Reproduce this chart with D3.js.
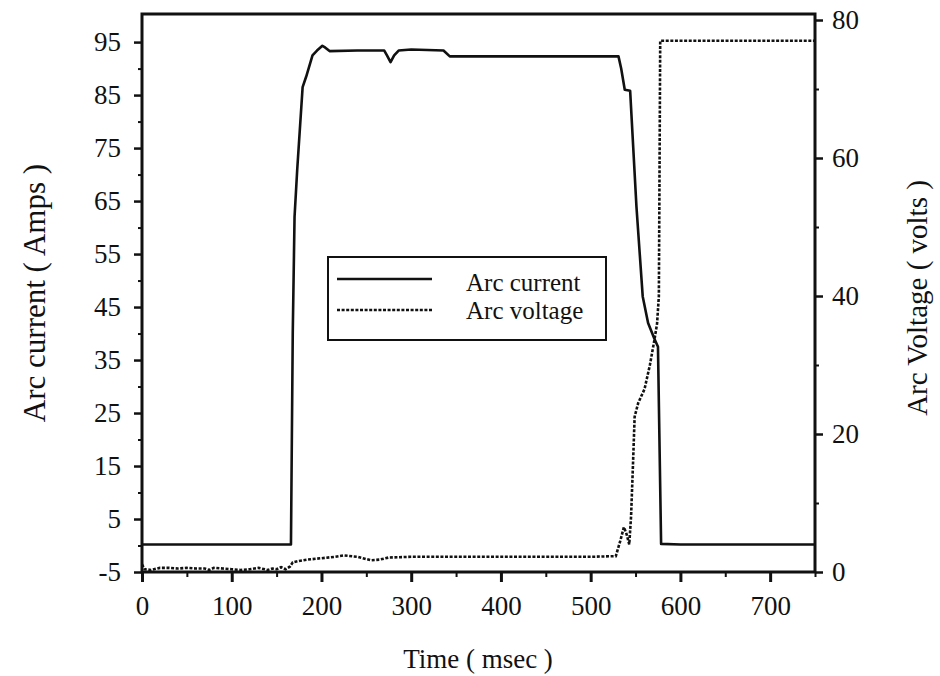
<!DOCTYPE html>
<html><head><meta charset="utf-8">
<script src="https://cdn.jsdelivr.net/npm/d3@7"></script>
<style>body{margin:0;background:#fff}svg{display:block}text{font-family:"Liberation Serif","Times New Roman",serif;fill:#111}</style>
</head><body><svg id="c" width="940" height="676"></svg>
<script>
// ---- data ----
const currentTime = [0,100,166,168,170,173,179,183,190,195,201,204,209,240,270,273,277,281,286,300,336,343,440,531,534,538,544,551,558,564,571,575,578.5,600,750];
const currentAmps = [0.2,0.2,0.2,40,62,71,86.5,88.5,92.5,93.4,94.3,94,93.3,93.4,93.4,92.5,91.2,92.5,93.4,93.6,93.4,92.3,92.3,92.3,90,86,85.8,64,47,42,39,37.5,0.3,0.2,0.2];
const voltageTime = [0,3,10,20,30,40,50,60,70,75,80,90,100,110,120,130,140,145,150,155,160,165,168,175,185,200,215,225,240,255,265,275,300,350,400,450,500,528,533,537,540,543,545,547,549,553,560,566,571,574,576,577.5,600,750];
const voltageVolts = [1.1,0.4,0.3,0.6,0.6,0.5,0.6,0.5,0.5,0.3,0.6,0.5,0.4,0.3,0.4,0.6,0.3,0.5,0.4,0.7,0.4,0.8,1.4,1.6,1.8,2.0,2.2,2.4,2.2,1.7,1.8,2.1,2.2,2.2,2.2,2.2,2.2,2.3,4.5,6.5,5.5,4.0,8,15,22.5,24.5,26.5,30,33.6,36,40,77,77,77];
const xMajorTicks = [0,100,200,300,400,500,600,700];
const xMinorTicks = [50,150,250,350,450,550,650,750];
const yLeftMajor = [-5,5,15,25,35,45,55,65,75,85,95];
const yLeftMinor = [0,10,20,30,40,50,60,70,80,90];
const yRightMajor = [0,20,40,60,80];
const yRightMinor = [10,30,50,70];
const legendLabels = ["Arc current","Arc voltage"];

// ---- layout ----
const L=142, R=815, T=14, B=572;
const svg = d3.select("#c");
const x = d3.scaleLinear().domain([0,750]).range([L,R]);
const yL = d3.scaleLinear().domain([-5,100.3]).range([B,T]);
const yR = d3.scaleLinear().domain([0,80.87]).range([B,T]);
const fs = 27;
const fmt = d => String(d);

function minor(g, sw){ g.select(".domain").remove(); g.selectAll("line").attr("stroke","#111").attr("stroke-width",sw); g.selectAll("text").remove(); }
function major(g, sw){ g.select(".domain").remove(); g.selectAll("line").attr("stroke","#111").attr("stroke-width",sw);
  g.selectAll("text").attr("font-size",fs).attr("font-family","Liberation Serif").attr("fill","#111"); }

svg.append("g").attr("transform",`translate(0,${B})`)
  .call(d3.axisBottom(x).tickValues(xMinorTicks).tickSize(5).tickFormat("")).call(g=>minor(g,2));
svg.append("g").attr("transform",`translate(0,${B})`)
  .call(d3.axisBottom(x).tickValues(xMajorTicks).tickSize(10).tickPadding(14).tickFormat(fmt)).call(g=>major(g,3));
svg.append("g").attr("transform",`translate(${L},0)`)
  .call(d3.axisLeft(yL).tickValues(yLeftMinor).tickSize(4).tickFormat("")).call(g=>minor(g,2));
svg.append("g").attr("transform",`translate(${L},0)`)
  .call(d3.axisLeft(yL).tickValues(yLeftMajor).tickSize(8).tickPadding(13).tickFormat(fmt)).call(g=>major(g,2.5));
svg.append("g").attr("transform",`translate(${R},0)`)
  .call(d3.axisRight(yR).tickValues(yRightMinor).tickSize(4).tickFormat("")).call(g=>minor(g,2));
svg.append("g").attr("transform",`translate(${R},0)`)
  .call(d3.axisRight(yR).tickValues(yRightMajor).tickSize(8).tickPadding(9).tickFormat(fmt)).call(g=>major(g,2.5));

// frame
svg.append("rect").attr("x",L).attr("y",T).attr("width",R-L).attr("height",B-T)
  .attr("fill","none").attr("stroke","#111").attr("stroke-width",3);

// series
const lineC = d3.line().x((d,i)=>x(currentTime[i])).y(d=>yL(d));
const lineV = d3.line().x((d,i)=>x(voltageTime[i])).y(d=>yR(d));
svg.append("path").attr("d",lineV(voltageVolts)).attr("fill","none").attr("stroke","#111")
  .attr("stroke-width",2.6).attr("stroke-dasharray","3,1.6");
svg.append("path").attr("d",lineC(currentAmps)).attr("fill","none").attr("stroke","#111")
  .attr("stroke-width",2.6).attr("stroke-linejoin","round");

// legend
const lg = svg.append("g");
lg.append("rect").attr("x",328).attr("y",257).attr("width",278).attr("height",83)
  .attr("fill","#fff").attr("stroke","#111").attr("stroke-width",2);
lg.append("line").attr("x1",337).attr("x2",432).attr("y1",279).attr("y2",279)
  .attr("stroke","#111").attr("stroke-width",2.6);
lg.append("line").attr("x1",337).attr("x2",432).attr("y1",310).attr("y2",310)
  .attr("stroke","#111").attr("stroke-width",2.6).attr("stroke-dasharray","3,1.6");
lg.selectAll("text.l").data(legendLabels).join("text").attr("class","l")
  .attr("x",466).attr("y",(d,i)=>291+i*28).attr("font-size",25).text(d=>d);

// axis titles
svg.append("text").attr("x",478).attr("y",668).attr("text-anchor","middle").attr("font-size",27).text("Time ( msec )");
svg.append("text").attr("transform","translate(45,293) rotate(-90)").attr("text-anchor","middle").attr("font-size",31).text("Arc current ( Amps )");
svg.append("text").attr("transform","translate(927,298) rotate(-90)").attr("text-anchor","middle").attr("font-size",29).text("Arc Voltage ( volts )");
</script></body></html>
